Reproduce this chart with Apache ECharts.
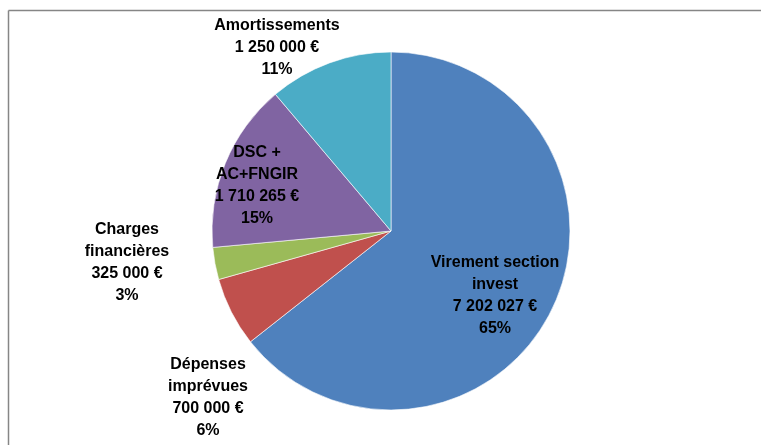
<!DOCTYPE html>
<html>
<head>
<meta charset="utf-8">
<script src="https://cdn.jsdelivr.net/npm/echarts@6/dist/echarts.min.js"></script>
<style>
  html, body { margin: 0; padding: 0; background: #fff; }
  #chart { width: 761px; height: 445px; }
</style>
</head>
<body>
<div id="chart"></div>
<script>
// données
const names = ['Virement section\ninvest', 'Dépenses\nimprévues', 'Charges\nfinancières', 'DSC +\nAC+FNGIR', 'Amortissements'];
const amounts = [7202027, 700000, 325000, 1710265, 1250000];
const pctLabels = ['65%', '6%', '3%', '15%', '11%'];
const colors = ['#4F81BD', '#C0504D', '#9BBB59', '#8064A2', '#4BACC6'];
// position des étiquettes (centre du texte)
const labelPos = [[495, 296], [208, 398], [127, 263], [257, 186], [277, 48]];

function formatEuro(v) {
  return String(v).replace(/\B(?=(\d{3})+(?!\d))/g, ' ') + ' €';
}

const chart = echarts.init(document.getElementById('chart'));
chart.setOption({
  animation: false,
  graphic: [
    { type: 'line', shape: { x1: 8.5, y1: 10.5, x2: 761, y2: 10.5 }, style: { stroke: '#868686', lineWidth: 1.5 } },
    { type: 'line', shape: { x1: 8.5, y1: 10.5, x2: 8.5, y2: 445 }, style: { stroke: '#868686', lineWidth: 1.5 } }
  ],
  series: [{
    type: 'pie',
    center: [391, 231],
    radius: 179,
    startAngle: 90,
    clockwise: true,
    avoidLabelOverlap: false,
    itemStyle: { borderColor: 'rgba(255,255,255,0.6)', borderWidth: 1 },
    label: {
      show: true,
      position: 'outside',
      color: '#000',
      fontFamily: "'Liberation Sans Narrow', 'Arial Narrow', 'Liberation Sans', Arial, sans-serif",
      fontWeight: 'bold',
      fontSize: 16,
      lineHeight: 22,
      align: 'center',
      formatter: p => p.name + '\n' + formatEuro(amounts[p.dataIndex]) + '\n' + pctLabels[p.dataIndex]
    },
    labelLine: { show: false },
    labelLayout: p => ({
      x: labelPos[p.dataIndex][0],
      y: labelPos[p.dataIndex][1],
      align: 'center',
      verticalAlign: 'middle'
    }),
    data: names.map((n, i) => ({ name: n, value: amounts[i], itemStyle: { color: colors[i] } }))
  }]
});
</script>
</body>
</html>
